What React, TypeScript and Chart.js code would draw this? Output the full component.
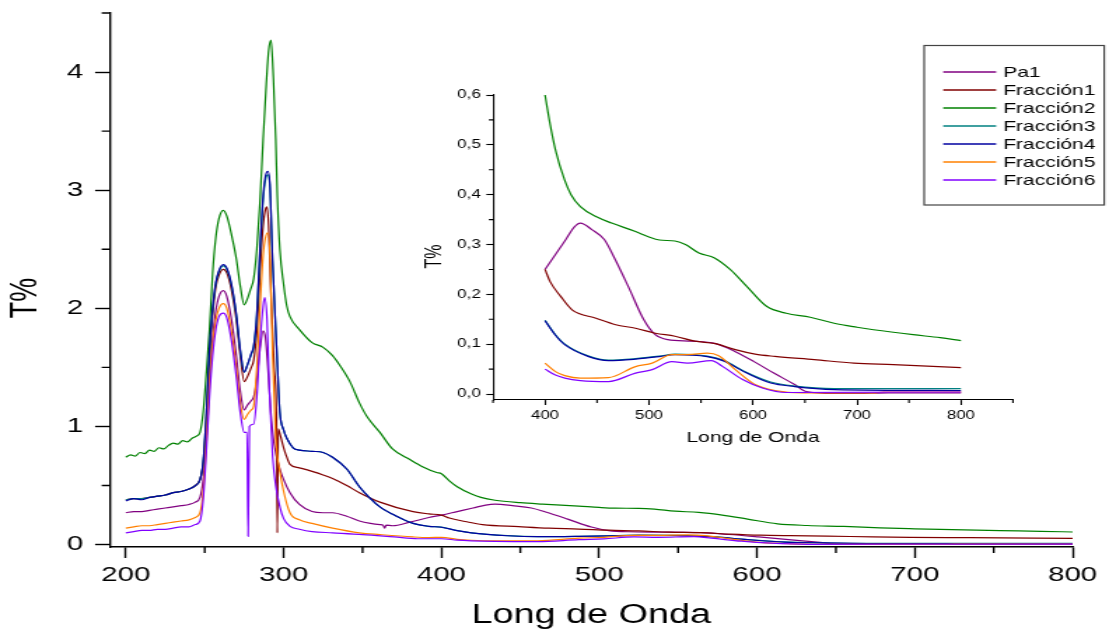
import React, { useEffect, useRef } from 'react';
import { Chart, registerables } from 'chart.js';

Chart.register(...registerables);

// ---------------- data ----------------
const seriesNames = ['Pa1', 'Fracción1', 'Fracción2', 'Fracción3', 'Fracción4', 'Fracción5', 'Fracción6'];

const pa1Wave = [200, 205, 210, 215, 220, 225, 230, 235, 240, 244, 247, 249, 251, 253, 255, 257, 259, 261.7, 264, 267, 270, 272.5, 275, 277, 279.5, 281, 283, 285, 287, 288.5, 290, 292, 294, 297.6, 300, 304, 310, 318, 325, 331, 340, 348, 355, 361, 363, 364, 365, 369, 380, 392, 400, 410, 420, 428, 434, 445, 457, 466, 480, 495, 506, 518, 541, 564, 582, 601, 620, 640, 651, 678, 700, 730, 800];
const pa1T = [0.27, 0.28, 0.28, 0.29, 0.30, 0.31, 0.32, 0.33, 0.34, 0.36, 0.40, 0.55, 0.9, 1.4, 1.75, 1.98, 2.1, 2.15, 2.1, 1.9, 1.6, 1.3, 1.14, 1.18, 1.22, 1.25, 1.4, 1.65, 1.81, 1.75, 1.5, 1.1, 0.85, 0.64, 0.55, 0.44, 0.34, 0.28, 0.27, 0.27, 0.24, 0.2, 0.18, 0.17, 0.165, 0.14, 0.165, 0.16, 0.19, 0.23, 0.25, 0.28, 0.31, 0.335, 0.343, 0.33, 0.31, 0.276, 0.216, 0.149, 0.119, 0.109, 0.106, 0.101, 0.086, 0.065, 0.042, 0.019, 0.005, 0.001, 0.001, 0.002, 0.002];

const fr1Wave = [200, 205, 210, 215, 220, 225, 230, 235, 240, 244, 247, 249, 251, 253, 255, 257, 259, 261.7, 264, 267, 270, 272.5, 275, 277, 279.5, 281, 283, 285, 287, 288.5, 289.4, 290.5, 292, 294, 295.5, 296, 296.6, 298, 300, 302, 304, 310, 318, 325, 331, 340, 348, 361, 382, 392, 400, 405, 415, 426, 449, 468, 487, 506, 525, 544, 564, 583, 602, 621, 659, 697, 735, 800];
const fr1T = [0.38, 0.39, 0.39, 0.40, 0.41, 0.42, 0.44, 0.45, 0.47, 0.50, 0.55, 0.68, 1.05, 1.6, 1.95, 2.18, 2.28, 2.33, 2.3, 2.15, 1.9, 1.6, 1.38, 1.42, 1.5, 1.56, 1.8, 2.3, 2.7, 2.84, 2.86, 2.7, 2.1, 1.5, 1.05, 0.1, 0.98, 0.92, 0.82, 0.74, 0.68, 0.65, 0.62, 0.59, 0.56, 0.5, 0.44, 0.36, 0.28, 0.26, 0.25, 0.225, 0.196, 0.169, 0.152, 0.139, 0.132, 0.122, 0.116, 0.106, 0.101, 0.089, 0.080, 0.0755, 0.069, 0.062, 0.059, 0.053];

const fr2Wave = [200, 203, 206, 209, 212, 215, 218, 221, 224, 227, 230, 233, 236, 239, 242, 245, 247, 249, 251, 253, 255, 257, 259, 261.7, 264, 267, 270, 272.5, 275, 277, 279, 281, 283, 285, 287, 289, 290.5, 292, 293.5, 295, 296, 297.6, 300, 302, 304, 310, 318, 325, 331, 336, 342, 348, 353, 361, 369, 380, 388, 397, 400, 405, 410, 418.7, 425, 434, 450, 464, 487, 500, 510, 525, 535, 548, 563, 578, 594, 613, 632, 655, 678, 700, 716, 754, 780, 800];
const fr2T = [0.74, 0.76, 0.75, 0.78, 0.77, 0.80, 0.79, 0.82, 0.81, 0.84, 0.86, 0.85, 0.88, 0.87, 0.90, 0.92, 0.95, 1.12, 1.45, 1.82, 2.3, 2.6, 2.76, 2.83, 2.78, 2.62, 2.42, 2.19, 2.03, 2.08, 2.16, 2.25, 2.5, 2.9, 3.43, 3.9, 4.18, 4.27, 3.95, 3.43, 2.95, 2.5, 2.2, 2.02, 1.93, 1.82, 1.71, 1.67, 1.6, 1.51, 1.38, 1.2, 1.08, 0.95, 0.81, 0.72, 0.66, 0.61, 0.60, 0.54, 0.49, 0.43, 0.40, 0.376, 0.355, 0.343, 0.326, 0.315, 0.309, 0.307, 0.3, 0.283, 0.273, 0.25, 0.216, 0.176, 0.162, 0.154, 0.142, 0.134, 0.129, 0.119, 0.113, 0.107];

const fr3Wave = [200, 205, 210, 215, 220, 225, 230, 235, 240, 244, 247, 249, 251, 253, 255, 257, 259, 261.7, 264, 267, 270, 272.5, 275, 277, 279.5, 281, 283, 285, 287, 288.5, 290, 291.3, 293, 295.5, 297.6, 300, 302, 306, 310, 318, 325, 331, 340, 348, 355, 361, 371.6, 382, 392, 400, 410, 419, 442, 461, 487, 510, 525, 556, 571, 594, 617, 640, 678, 800];
const fr3T = [0.38, 0.39, 0.39, 0.40, 0.41, 0.42, 0.44, 0.45, 0.47, 0.50, 0.55, 0.70, 1.1, 1.64, 1.99, 2.21, 2.31, 2.36, 2.33, 2.19, 1.94, 1.64, 1.46, 1.52, 1.61, 1.67, 1.94, 2.48, 2.92, 3.09, 3.13, 3.03, 2.4, 1.68, 1.12, 0.97, 0.9, 0.82, 0.8, 0.79, 0.78, 0.74, 0.64, 0.49, 0.39, 0.32, 0.24, 0.18, 0.155, 0.148, 0.119, 0.1, 0.076, 0.068, 0.071, 0.076, 0.08, 0.076, 0.068, 0.043, 0.024, 0.016, 0.011, 0.011];

const fr4Wave = [200, 205, 210, 215, 220, 225, 230, 235, 240, 244, 247, 249, 251, 253, 255, 257, 259, 261.7, 264, 267, 270, 272.5, 275, 277, 279.5, 281, 283, 285, 287, 288.5, 290, 291.3, 293, 295.5, 297.6, 300, 302, 306, 310, 318, 325, 331, 340, 348, 355, 361, 371.6, 382, 392, 400, 410, 419, 442, 461, 487, 510, 525, 556, 571, 594, 617, 640, 678, 800];
const fr4T = [0.37, 0.39, 0.38, 0.40, 0.41, 0.42, 0.44, 0.45, 0.47, 0.50, 0.55, 0.70, 1.1, 1.65, 2.0, 2.22, 2.32, 2.37, 2.34, 2.2, 1.95, 1.65, 1.46, 1.52, 1.62, 1.68, 1.95, 2.5, 2.95, 3.12, 3.16, 3.05, 2.4, 1.68, 1.12, 0.97, 0.9, 0.82, 0.8, 0.79, 0.78, 0.74, 0.64, 0.49, 0.39, 0.32, 0.24, 0.18, 0.155, 0.147, 0.118, 0.099, 0.075, 0.067, 0.070, 0.075, 0.079, 0.075, 0.067, 0.042, 0.022, 0.015, 0.009, 0.007];

const fr5Wave = [200, 205, 210, 215, 220, 225, 230, 235, 240, 244, 247, 249, 251, 253, 255, 257, 259, 261.7, 264, 267, 270, 272.5, 275, 277, 279.5, 281, 283, 285, 287, 288.5, 290, 291.5, 293, 295, 297.6, 300, 304, 310, 318, 331, 348, 361, 382, 392, 400, 410, 419, 434, 461, 487, 503, 522, 537, 556, 567, 583, 602, 621, 647, 716, 725, 800];
const fr5T = [0.14, 0.15, 0.16, 0.16, 0.17, 0.18, 0.19, 0.20, 0.21, 0.23, 0.27, 0.45, 0.85, 1.35, 1.7, 1.9, 2.0, 2.04, 2.0, 1.8, 1.5, 1.2, 1.06, 1.1, 1.14, 1.17, 1.5, 2.0, 2.45, 2.6, 2.64, 2.4, 1.6, 0.9, 0.62, 0.45, 0.27, 0.21, 0.18, 0.14, 0.10, 0.085, 0.065, 0.06, 0.062, 0.045, 0.037, 0.032, 0.033, 0.055, 0.062, 0.079, 0.079, 0.082, 0.077, 0.049, 0.019, 0.007, 0.002, 0.002, 0.004, 0.004];

const fr6Wave = [200, 205, 210, 215, 220, 225, 230, 235, 240, 244, 247, 249, 251, 253, 255, 257, 259, 261.7, 264, 267, 270, 272.5, 275, 276.8, 277.5, 278.3, 281, 283, 285, 287, 288, 289.5, 291, 293, 295, 297.6, 300, 304, 310, 318, 331, 350, 370, 385, 400, 410, 419, 434, 461, 487, 503, 522, 537, 560, 571, 590, 609, 632, 800];
const fr6T = [0.10, 0.11, 0.12, 0.12, 0.13, 0.13, 0.14, 0.15, 0.15, 0.17, 0.2, 0.38, 0.78, 1.25, 1.6, 1.82, 1.93, 1.96, 1.92, 1.72, 1.42, 1.12, 0.95, 0.95, 0.07, 1.0, 1.02, 1.25, 1.7, 2.02, 2.09, 1.9, 1.3, 0.75, 0.5, 0.32, 0.22, 0.155, 0.13, 0.11, 0.1, 0.085, 0.065, 0.05, 0.05, 0.038, 0.032, 0.027, 0.025, 0.042, 0.049, 0.065, 0.062, 0.067, 0.055, 0.029, 0.012, 0.003, 0.004];

const seriesWaves = [pa1Wave, fr1Wave, fr2Wave, fr3Wave, fr4Wave, fr5Wave, fr6Wave];
const seriesValues = [pa1T, fr1T, fr2T, fr3T, fr4T, fr5T, fr6T];

// ticks
const mainXTicks = [200, 300, 400, 500, 600, 700, 800];
const mainXMinor = [250, 350, 450, 550, 650, 750];
const mainYTicks = [0, 1, 2, 3, 4];
const mainYLabels = ['0', '1', '2', '3', '4'];
const mainYMinor = [0.5, 1.5, 2.5, 3.5, 4.5];

const insetXTicks = [400, 500, 600, 700, 800];
const insetXMinor = [350, 450, 550, 650, 750, 850];
const insetYTicks = [0, 0.1, 0.2, 0.3, 0.4, 0.5, 0.6];
const insetYLabels = ['0,0', '0,1', '0,2', '0,3', '0,4', '0,5', '0,6'];
const insetYMinor = [0.05, 0.15, 0.25, 0.35, 0.45, 0.55];

// ---------------- styles ----------------
const seriesColors = ['#800080', '#800000', '#008000', '#008080', '#0000A0', '#FF8000', '#8000FF'];
const FONT = "'Liberation Sans', Arial, Helvetica, sans-serif";
const CW = 792; // canvas drawing width (stretched to 1109 by CSS)
const CH = 633;

function buildDatasets(minWave: number) {
  return seriesNames.map((name, i) => {
    const pts = seriesWaves[i]
      .map((w, k) => ({ x: w, y: seriesValues[i][k] }))
      .filter((p) => p.x >= minWave);
    return {
      label: name,
      data: pts,
      borderColor: seriesColors[i],
      backgroundColor: seriesColors[i],
      borderWidth: 1.2,
      pointRadius: 0,
      fill: false,
      cubicInterpolationMode: 'monotone' as const,
      order: seriesNames.length - i,
    };
  });
}

function minorTicks(cfg: { x: number[]; y: number[]; len: number; width: number }) {
  return {
    id: 'minorTicks',
    afterDraw(chart: any) {
      const { ctx, chartArea, scales } = chart;
      ctx.save();
      ctx.strokeStyle = '#000';
      ctx.lineWidth = cfg.width;
      ctx.beginPath();
      cfg.x.forEach((v) => {
        const px = scales.x.getPixelForValue(v);
        ctx.moveTo(px, chartArea.bottom);
        ctx.lineTo(px, chartArea.bottom + cfg.len);
      });
      cfg.y.forEach((v) => {
        const py = scales.y.getPixelForValue(v);
        ctx.moveTo(chartArea.left, py);
        ctx.lineTo(chartArea.left - cfg.len, py);
      });
      ctx.stroke();
      ctx.restore();
    },
  };
}

function yTitle(cfg: { text: string; x: number; y: number; size: number }) {
  return {
    id: 'yTitle',
    afterDraw(chart: any) {
      const ctx = chart.ctx;
      ctx.save();
      ctx.translate(cfg.x, cfg.y);
      ctx.rotate(-Math.PI / 2);
      ctx.font = `${cfg.size}px ${FONT}`;
      ctx.fillStyle = '#000';
      ctx.textAlign = 'center';
      ctx.textBaseline = 'middle';
      ctx.fillText(cfg.text, 0, 0);
      ctx.restore();
    },
  };
}

const legendBox = {
  id: 'boxLegend',
  afterDraw(chart: any) {
    const ctx = chart.ctx;
    const l = 660, t = 45.5, r = 788.6, b = 205;
    ctx.save();
    ctx.fillStyle = '#fff';
    ctx.fillRect(l, t, r - l, b - t);
    ctx.strokeStyle = '#444';
    ctx.lineWidth = 1.2;
    ctx.strokeRect(l, t, r - l, b - t);
    ctx.font = `15px ${FONT}`;
    ctx.textBaseline = 'middle';
    ctx.textAlign = 'left';
    chart.data.datasets.forEach((ds: any, i: number) => {
      const y = 72 + i * 18;
      ctx.strokeStyle = ds.borderColor;
      ctx.lineWidth = 1.6;
      ctx.beginPath();
      ctx.moveTo(673.6, y);
      ctx.lineTo(711.4, y);
      ctx.stroke();
      ctx.fillStyle = '#000';
      ctx.fillText(ds.label, 716.4, y + 0.5);
    });
    ctx.restore();
  },
};

const noEdgePadV = (width: number) => (s: any) => {
  s.width = width;
  s.paddingTop = 0;
  s.paddingBottom = 0;
};
const noEdgePadH = (height: number) => (s: any) => {
  s.height = height;
};

function mainConfig(): any {
  return {
    type: 'line',
    data: { datasets: buildDatasets(0) },
    options: {
      animation: false,
      responsive: false,
      devicePixelRatio: 1,
      events: [],
      layout: { padding: { left: 0, right: 26, top: 13, bottom: 0 } },
      plugins: { legend: { display: false }, tooltip: { enabled: false } },
      scales: {
        x: {
          type: 'linear',
          min: 190,
          max: 800,
          afterBuildTicks: (s: any) => { s.ticks = mainXTicks.map((v) => ({ value: v })); },
          afterFit: noEdgePadH(86),
          grid: { display: true, drawOnChartArea: false, drawTicks: true, tickLength: 11, tickWidth: 1.4, tickColor: '#000' },
          border: { display: true, color: '#000', width: 1.4 },
          ticks: { color: '#000', font: { family: FONT, size: 21 }, padding: 5, autoSkip: false, maxRotation: 0, callback: (v: number) => String(v) },
          title: { display: true, text: 'Long de Onda', color: '#000', font: { family: FONT, size: 27 }, padding: { top: 0, bottom: 1 } },
        },
        y: {
          type: 'linear',
          min: -0.02,
          max: 4.5,
          afterBuildTicks: (s: any) => { s.ticks = mainYTicks.map((v) => ({ value: v })); },
          afterFit: noEdgePadV(78.6),
          grid: { display: true, drawOnChartArea: false, drawTicks: true, tickLength: 10.7, tickWidth: 1.4, tickColor: '#000' },
          border: { display: true, color: '#000', width: 1.4 },
          ticks: { color: '#000', font: { family: FONT, size: 21 }, padding: 8.5, autoSkip: false, callback: (_v: number, i: number) => mainYLabels[i] },
        },
      },
    },
    plugins: [
      minorTicks({ x: mainXMinor, y: mainYMinor, len: 6, width: 1.4 }),
      yTitle({ text: 'T%', x: 18.6, y: 298, size: 27 }),
    ],
  };
}

function insetConfig(): any {
  return {
    type: 'line',
    data: { datasets: buildDatasets(400) },
    options: {
      animation: false,
      responsive: false,
      devicePixelRatio: 1,
      events: [],
      layout: { padding: { left: 300, right: 68.6, top: 95, bottom: 173 } },
      plugins: { legend: { display: false }, tooltip: { enabled: false } },
      scales: {
        x: {
          type: 'linear',
          min: 350,
          max: 850,
          afterBuildTicks: (s: any) => { s.ticks = insetXTicks.map((v) => ({ value: v })); },
          afterFit: noEdgePadH(60),
          grid: { display: true, drawOnChartArea: false, drawTicks: true, tickLength: 5, tickWidth: 1.1, tickColor: '#000' },
          border: { display: true, color: '#000', width: 1.1 },
          ticks: { color: '#000', font: { family: FONT, size: 12 }, padding: 3, autoSkip: false, maxRotation: 0, callback: (v: number) => String(v) },
          title: { display: true, text: 'Long de Onda', color: '#000', font: { family: FONT, size: 15 }, padding: { top: 0, bottom: 13.5 } },
        },
        y: {
          type: 'linear',
          min: -0.012,
          max: 0.6,
          afterBuildTicks: (s: any) => { s.ticks = insetYTicks.map((v) => ({ value: v })); },
          afterFit: noEdgePadV(52.1),
          grid: { display: true, drawOnChartArea: false, drawTicks: true, tickLength: 4.8, tickWidth: 1.1, tickColor: '#000' },
          border: { display: true, color: '#000', width: 1.1 },
          ticks: { color: '#000', font: { family: FONT, size: 12 }, padding: 4, autoSkip: false, callback: (_v: number, i: number) => insetYLabels[i] },
        },
      },
    },
    plugins: [
      minorTicks({ x: insetXMinor, y: insetYMinor, len: 3, width: 1.1 }),
      yTitle({ text: 'T%', x: 310.7, y: 256.5, size: 16 }),
      legendBox,
    ],
  };
}

export default function App() {
  const mainRef = useRef<HTMLCanvasElement>(null);
  const insetRef = useRef<HTMLCanvasElement>(null);

  useEffect(() => {
    const main = new Chart(mainRef.current as HTMLCanvasElement, mainConfig());
    const inset = new Chart(insetRef.current as HTMLCanvasElement, insetConfig());
    return () => {
      main.destroy();
      inset.destroy();
    };
  }, []);

  const canvasStyle: React.CSSProperties = {
    position: 'absolute',
    left: 0,
    top: 0,
    width: '1109px',
    height: '633px',
  };

  return (
    <div style={{ position: 'fixed', left: 0, top: 0, width: 1109, height: 633, background: '#fff', overflow: 'hidden' }}>
      <canvas ref={mainRef} width={CW} height={CH} style={canvasStyle} />
      <canvas ref={insetRef} width={CW} height={CH} style={canvasStyle} />
    </div>
  );
}
